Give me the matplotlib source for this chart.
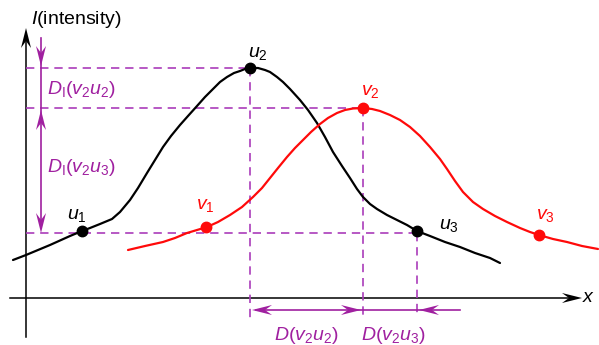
import numpy as np
import matplotlib.pyplot as plt

plt.rcParams['font.family'] = ['Liberation Sans', 'DejaVu Sans']
plt.rcParams['mathtext.fontset'] = 'custom'
plt.rcParams['mathtext.rm'] = 'Liberation Sans'
plt.rcParams['mathtext.it'] = 'Liberation Sans:italic'

# curves (pixel coords, y grows downward)
u_x = [13, 26, 50, 70, 82, 90, 100, 112, 120, 130, 138, 147, 155, 163, 171,
       180, 188, 197, 205, 213, 220, 227, 234, 240, 245, 250, 258, 265, 270,
       277, 283, 290, 300, 308, 317, 325, 333, 342, 350, 357, 363, 370, 377,
       387, 397, 407, 417, 430, 445, 460, 475, 490, 500]
u_y = [260, 255, 245, 236, 231, 228, 224, 219, 212, 200, 188, 173, 160, 147,
       136, 125, 116, 106, 97, 89, 82, 77, 73, 71, 69, 68, 68, 70, 72, 77, 82,
       89, 100, 110, 123, 137, 152, 166, 178, 189, 197, 204, 209, 215, 220,
       225, 231, 236, 242, 247, 253, 258, 263]
v_x = [128, 145, 163, 175, 187, 197, 207, 218, 230, 242, 253, 262, 270, 278,
       287, 295, 303, 311, 320, 328, 337, 345, 353, 363, 372, 380, 390, 400,
       410, 420, 430, 440, 447, 455, 463, 473, 483, 495, 507, 520, 530, 539,
       553, 567, 582, 598]
v_y = [250, 246, 242, 238, 233, 230, 227, 222, 215, 207, 197, 188, 178, 168,
       157, 148, 140, 132, 124, 118, 113, 110, 108.5, 108, 109, 111, 115, 120,
       127, 136, 147, 159, 169, 181, 192, 202, 209, 216, 222, 228, 232, 235,
       239, 242, 246, 249]

# marked points
u_pts_x = [82, 250, 417]
u_pts_y = [231, 68, 231]
v_pts_x = [206, 363, 539]
v_pts_y = [227, 108, 235]
u_names = [r'$u_1$', r'$u_2$', r'$u_3$']
v_names = [r'$v_1$', r'$v_2$', r'$v_3$']
u_lab_xy = [(77, 215), (258, 53), (449, 225)]
v_lab_xy = [(205, 205), (370, 91), (545, 215)]

# guide levels
x_axis_y = 298
y_axis_x = 26
level_y = [68, 108, 233]          # u2, v2, u1/u3 level
level_x_end = [250, 363, 417]
drop_x = [250, 363, 417]
drop_y_top = [68, 108, 233]
drop_y_bot = 318
v_arrow_x = 41
h_arrow_y = 310

purple = '#a020a0'
dash_col = '#aa3cba'
red = '#ff0a0a'

fig = plt.figure(figsize=(5.99, 3.45), dpi=100)
ax = fig.add_axes([0, 0, 1, 1])
ax.set_xlim(0, 599)
ax.set_ylim(345, 0)
ax.axis('off')


def stealth(tip, d, color, length=20, width=10):
    tx, ty = tip
    dx, dy = d
    n = np.hypot(dx, dy)
    dx, dy = dx / n, dy / n
    px, py = -dy, dx
    pts = [(tx, ty),
           (tx - length * dx + width / 2 * px, ty - length * dy + width / 2 * py),
           (tx - 0.65 * length * dx, ty - 0.65 * length * dy),
           (tx - length * dx - width / 2 * px, ty - length * dy - width / 2 * py)]
    xs, ys = zip(*pts)
    ax.fill(xs, ys, color=color, lw=0, zorder=5)


# axes
ax.plot([y_axis_x, y_axis_x], [337, 34], color='black', lw=1.1)
stealth((y_axis_x, 28), (0, -1), 'black', 20, 10)
ax.plot([10, 575], [x_axis_y, x_axis_y], color='black', lw=1.1)
stealth((582, x_axis_y), (1, 0), 'black', 20, 10)
ax.text(589, 297, r'$x$', fontsize=14, ha='center', va='center')
ax.text(31, 19, r'$I$(intensity)', fontsize=14, ha='left', va='center')

# dashed guides
dash = (0, (5, 3.5))
for y, xe in zip(level_y, level_x_end):
    ax.plot([y_axis_x, xe], [y, y], color=dash_col, lw=1.2, ls=dash)
for x, yt in zip(drop_x, drop_y_top):
    ax.plot([x, x], [yt, drop_y_bot], color=dash_col, lw=1.2, ls=dash)

# curves
ax.plot(u_x, u_y, color='black', lw=1.6, solid_capstyle='round',
        solid_joinstyle='round', zorder=3)
ax.plot(v_x, v_y, color=red, lw=1.6, solid_capstyle='round',
        solid_joinstyle='round', zorder=3)
ax.plot(u_pts_x, u_pts_y, 'o', color='black', ms=7.5, zorder=4)
ax.plot(v_pts_x, v_pts_y, 'o', color=red, ms=7.5, zorder=4)
for s, (x, y) in zip(u_names, u_lab_xy):
    ax.text(x, y, s, fontsize=14, ha='center', va='center', color='black')
for s, (x, y) in zip(v_names, v_lab_xy):
    ax.text(x, y, s, fontsize=14, ha='center', va='center', color=red)

# vertical difference arrows
ax.plot([v_arrow_x, v_arrow_x], [38, 228], color=purple, lw=1.2)
stealth((v_arrow_x, 66), (0, 1), purple)
stealth((v_arrow_x, 110), (0, -1), purple)
stealth((v_arrow_x, 233), (0, 1), purple)
ax.text(47, 89, r'$D_{\mathrm{I}}(v_2u_2)$', fontsize=14, color=purple,
        ha='left', va='center')
ax.text(47, 167, r'$D_{\mathrm{I}}(v_2u_3)$', fontsize=14, color=purple,
        ha='left', va='center')

# horizontal difference arrows
ax.plot([256, 460], [h_arrow_y, h_arrow_y], color=purple, lw=1.2)
stealth((252, h_arrow_y), (-1, 0), purple)
stealth((361, h_arrow_y), (1, 0), purple)
stealth((419, h_arrow_y), (-1, 0), purple)
ax.text(306, 335, r'$D(v_2u_2)$', fontsize=14, color=purple,
        ha='center', va='center')
ax.text(393, 335, r'$D(v_2u_3)$', fontsize=14, color=purple,
        ha='center', va='center')

fig.savefig('out.png', dpi=100)
